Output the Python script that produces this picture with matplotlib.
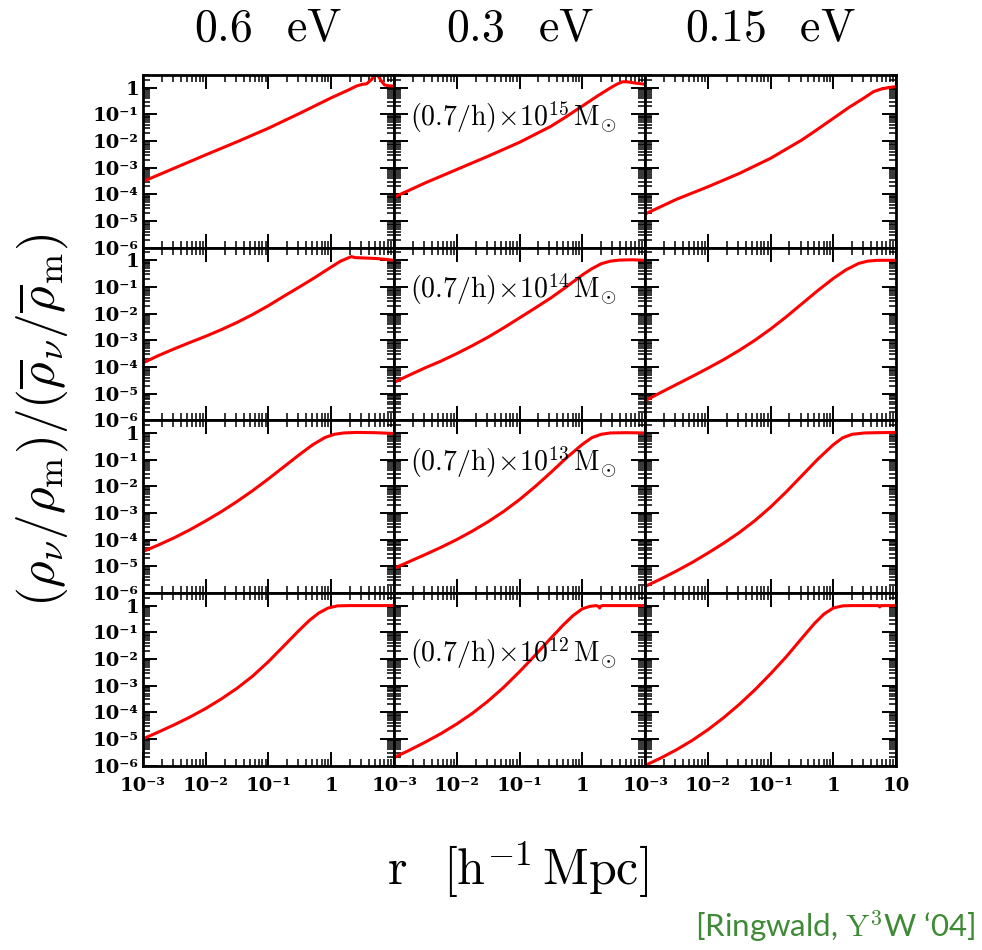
import numpy as np
import matplotlib
matplotlib.use("Agg")
import matplotlib.pyplot as plt
from matplotlib.ticker import LogLocator, FuncFormatter, NullFormatter

plt.rcParams['mathtext.fontset'] = 'cm'
plt.rcParams['font.family'] = ['DejaVu Serif']

energies = ['0.6', '0.3', '0.15']
mass_exponents = ['15', '14', '13', '12']
label_log_y = [-1.1, -1.1, -1.1, -1.8]

# log10(r [h^-1 Mpc]) and log10 of density ratio, read per panel (row = halo mass, col = neutrino mass)
lr_15_06 = [-3.0, -2.5, -2.0, -1.5, -1.0, -0.5, -0.25, 0.0, 0.15, 0.29, 0.40, 0.50, 0.56, 0.64, 0.715, 0.76, 0.795, 0.85, 0.92, 1.0]
ly_15_06 = [-3.52, -3.02, -2.52, -2.03, -1.52, -0.96, -0.67, -0.38, -0.22, -0.07, 0.06, 0.13, 0.14, 0.30, 0.52, 0.40, 0.26, 0.10, 0.07, 0.06]
lr_15_03 = [-3.0, -2.5, -2.0, -1.5, -1.0, -0.5, -0.25, 0.0, 0.25, 0.44, 0.55, 0.64, 0.72, 0.85, 0.96, 1.0]
ly_15_03 = [-4.11, -3.57, -3.07, -2.57, -2.05, -1.45, -1.08, -0.69, -0.30, -0.02, 0.13, 0.22, 0.22, 0.17, 0.14, 0.13]
lr_15_015 = [-3.0, -2.5, -2.0, -1.5, -1.0, -0.5, -0.25, 0.0, 0.25, 0.5, 0.64, 0.75, 0.87, 1.0]
ly_15_015 = [-4.74, -4.19, -3.72, -3.22, -2.65, -1.96, -1.56, -1.15, -0.74, -0.37, -0.15, -0.06, 0.0, 0.04]

lr_14_06 = [-3.0, -2.75, -2.5, -2.25, -2.0, -1.75, -1.5, -1.25, -1.0, -0.75, -0.5, -0.25, 0.0, 0.15, 0.25, 0.32, 0.38, 0.5, 0.7, 0.85, 1.0]
ly_14_06 = [-3.85, -3.57, -3.32, -3.08, -2.85, -2.60, -2.33, -2.03, -1.70, -1.34, -0.99, -0.63, -0.25, -0.03, 0.07, 0.14, 0.10, 0.09, 0.07, 0.04, 0.0]
lr_14_03 = [-3.0, -2.75, -2.5, -2.25, -2.0, -1.75, -1.5, -1.25, -1.0, -0.75, -0.5, -0.25, 0.0, 0.15, 0.3, 0.45, 0.6, 0.8, 1.0]
ly_14_03 = [-4.58, -4.30, -4.03, -3.78, -3.50, -3.20, -2.88, -2.53, -2.16, -1.79, -1.41, -0.99, -0.55, -0.32, -0.13, -0.03, 0.01, 0.02, 0.0]
lr_14_015 = [-3.0, -2.75, -2.5, -2.25, -2.0, -1.75, -1.5, -1.25, -1.0, -0.75, -0.5, -0.25, 0.0, 0.2, 0.4, 0.55, 0.7, 1.0]
ly_14_015 = [-5.27, -4.96, -4.66, -4.36, -4.05, -3.73, -3.38, -3.00, -2.58, -2.12, -1.63, -1.14, -0.68, -0.36, -0.12, -0.03, 0.0, 0.0]

lr_13_06 = [-3.0, -2.75, -2.5, -2.25, -2.0, -1.75, -1.5, -1.25, -1.0, -0.75, -0.5, -0.3, -0.1, 0.05, 0.2, 0.4, 0.7, 1.0]
ly_13_06 = [-4.45, -4.20, -3.93, -3.63, -3.30, -2.95, -2.57, -2.16, -1.72, -1.26, -0.80, -0.45, -0.17, -0.05, 0.0, 0.02, 0.01, -0.02]
lr_13_03 = [-3.0, -2.75, -2.5, -2.25, -2.0, -1.75, -1.5, -1.25, -1.0, -0.75, -0.5, -0.25, 0.0, 0.15, 0.3, 0.45, 0.7, 1.0]
ly_13_03 = [-5.08, -4.82, -4.56, -4.29, -4.00, -3.68, -3.33, -2.94, -2.50, -2.01, -1.48, -0.93, -0.43, -0.18, -0.05, 0.0, 0.01, 0.0]
lr_13_015 = [-3.0, -2.75, -2.5, -2.25, -2.0, -1.75, -1.5, -1.25, -1.0, -0.75, -0.5, -0.25, 0.0, 0.15, 0.3, 0.5, 0.7, 1.0]
ly_13_015 = [-5.76, -5.48, -5.18, -4.86, -4.51, -4.14, -3.74, -3.29, -2.78, -2.21, -1.60, -0.99, -0.44, -0.18, -0.05, 0.0, 0.01, 0.02]

lr_12_06 = [-3.0, -2.75, -2.5, -2.25, -2.0, -1.75, -1.5, -1.25, -1.0, -0.75, -0.5, -0.35, -0.2, -0.05, 0.1, 0.3, 1.0]
ly_12_06 = [-5.00, -4.74, -4.47, -4.18, -3.86, -3.50, -3.10, -2.64, -2.10, -1.50, -0.90, -0.56, -0.28, -0.09, -0.01, 0.0, 0.0]
lr_12_03 = [-3.0, -2.75, -2.5, -2.25, -2.0, -1.75, -1.5, -1.25, -1.0, -0.75, -0.5, -0.3, -0.15, 0.0, 0.12, 0.22, 0.26, 0.275, 0.29, 0.32, 0.6, 1.0]
ly_12_03 = [-5.70, -5.42, -5.12, -4.80, -4.44, -4.04, -3.58, -3.06, -2.48, -1.86, -1.22, -0.72, -0.38, -0.12, -0.03, 0.0, -0.03, -0.09, -0.03, 0.0, 0.0, 0.0]
lr_12_015 = [-3.0, -2.75, -2.5, -2.25, -2.0, -1.75, -1.5, -1.25, -1.0, -0.75, -0.5, -0.3, -0.15, 0.0, 0.15, 0.3, 0.72, 0.74, 0.76, 1.0]
ly_12_015 = [-6.0, -5.72, -5.41, -5.06, -4.66, -4.21, -3.71, -3.16, -2.56, -1.92, -1.22, -0.67, -0.32, -0.09, -0.01, 0.0, 0.0, -0.05, 0.0, 0.0]

panels = [
    [(lr_15_06, ly_15_06), (lr_15_03, ly_15_03), (lr_15_015, ly_15_015)],
    [(lr_14_06, ly_14_06), (lr_14_03, ly_14_03), (lr_14_015, ly_14_015)],
    [(lr_13_06, ly_13_06), (lr_13_03, ly_13_03), (lr_13_015, ly_13_015)],
    [(lr_12_06, ly_12_06), (lr_12_03, ly_12_03), (lr_12_015, ly_12_015)],
]

fig, axes = plt.subplots(4, 3, figsize=(9.82, 9.5), dpi=100)
fig.subplots_adjust(left=0.1456, right=0.9125, top=0.9211, bottom=0.1942, wspace=0, hspace=0)

SUP = str.maketrans('-0123456789', '⁻⁰¹²³⁴⁵⁶⁷⁸⁹')


def tick_text(v):
    e = int(round(np.log10(v)))
    if e == 0:
        return '1'
    if e == 1:
        return '10'
    return '10' + str(e).translate(SUP)


for i in range(4):
    for j in range(3):
        ax = axes[i, j]
        lr, ly = panels[i][j]
        ax.plot(10 ** np.array(lr), 10 ** np.array(ly), color='#ff0000', lw=2.2,
                solid_joinstyle='round', solid_capstyle='round')
        ax.set_xscale('log')
        ax.set_yscale('log')
        ax.set_xlim(1e-3, 10)
        ax.set_ylim(1e-6, 3)
        for s in ax.spines.values():
            s.set_linewidth(2.0)
        ax.xaxis.set_major_locator(LogLocator(base=10, numticks=20))
        ax.xaxis.set_minor_locator(LogLocator(base=10, subs=np.arange(2, 10), numticks=20))
        ax.yaxis.set_major_locator(LogLocator(base=10, numticks=20))
        ax.yaxis.set_minor_locator(LogLocator(base=10, subs=np.arange(2, 10), numticks=20))
        ax.tick_params(which='both', direction='in', top=True, right=True)
        ax.tick_params(which='major', length=10, width=1.4)
        ax.tick_params(which='minor', length=5, width=1.1)
        ax.xaxis.set_minor_formatter(NullFormatter())
        ax.yaxis.set_minor_formatter(NullFormatter())
        if i == 3:
            if j < 2:
                ax.xaxis.set_major_formatter(FuncFormatter(lambda v, p: '' if v > 5 else tick_text(v)))
            else:
                ax.xaxis.set_major_formatter(FuncFormatter(lambda v, p: tick_text(v)))
            ax.tick_params(axis='x', pad=8)
        else:
            ax.set_xticklabels([])
        if j == 0:
            ax.yaxis.set_major_formatter(FuncFormatter(lambda v, p: tick_text(v)))
            ax.tick_params(axis='y', pad=3)
        else:
            ax.set_yticklabels([])
        if j == 1:
            ax.text(1.8e-3, 10 ** label_log_y[i],
                    r'$(0.7/\mathrm{h})\!\times\!10^{%s}\,\mathrm{M}_{\odot}$' % mass_exponents[i],
                    fontsize=20, ha='left', va='center')

for ax in axes.flat:
    for t in ax.get_xticklabels() + ax.get_yticklabels():
        t.set_family('DejaVu Serif')
        t.set_weight('bold')
        t.set_size(14)

col_centers = [0.2732, 0.5295, 0.7844]
for j in range(3):
    fig.text(col_centers[j], 0.9705, r'$\mathrm{%s\;\;\;eV}$' % energies[j], fontsize=33,
             ha='center', va='center')

fig.text(0.5265, 0.0842, r'$\mathrm{r\;\;\;[h^{-1}\,Mpc]}$', fontsize=36, ha='center', va='center')
fig.text(0.043, 0.558, r'$(\rho_\nu/\rho_\mathrm{m})/(\overline{\rho}_\nu/\overline{\rho}_\mathrm{m})$',
         fontsize=37, rotation=90, ha='center', va='center')
fig.text(0.993, 0.024, r'[Ringwald, $\mathrm{Y}^{3}$W ‘04]', fontsize=22.5, color='#3f8a36',
         ha='right', va='center', family=['Lato', 'DejaVu Sans'])

fig.savefig('out.png', dpi=100)
